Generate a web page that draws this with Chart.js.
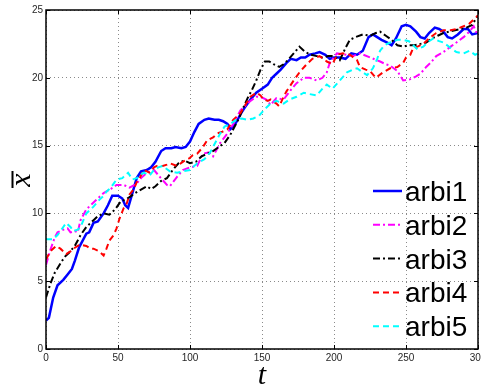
<!DOCTYPE html>
<html>
<head>
<meta charset="utf-8">
<script src="https://cdn.jsdelivr.net/npm/chart.js@4.4.1/dist/chart.umd.min.js"></script>
<style>
  html, body { margin: 0; padding: 0; background: #fff; }
  #wrap { width: 481px; height: 388px; }
</style>
</head>
<body>
<div id="wrap"><canvas id="c" width="481" height="388"></canvas></div>
<script>
// Axis ticks
const xTicks = [0, 50, 100, 150, 200, 250, 300];
const yTicks = [0, 5, 10, 15, 20, 25];

// Series names
const seriesNames = ['arbi1', 'arbi2', 'arbi3', 'arbi4', 'arbi5'];

// arbi1: time samples and mean values
const arbi1T = [0,2,5,8,12,15,18,20,23,25,28,30,33,36,40,43,46,50,53,55,57,60,63,66,70,73,76,80,83,87,90,94,97,100,103,106,110,113,117,120,123,126,128,131,135,138,142,146,150,154,157,160,163,167,170,174,177,180,183,187,190,194,197,200,204,208,212,216,220,224,227,230,233,237,240,243,247,250,253,257,260,263,266,270,273,276,279,282,286,290,293,296,300];
const arbi1X = [2.1,2.3,3.8,4.7,5.1,5.5,5.9,6.5,7.5,7.9,8.5,8.6,9.3,9.4,10.0,10.6,11.3,11.3,11.1,10.6,10.4,11.5,12.6,13.1,13.2,13.4,13.8,14.6,14.8,14.8,14.9,14.8,14.9,15.3,16.0,16.6,16.9,17.0,16.9,16.9,16.8,16.6,16.2,16.5,17.3,17.8,18.4,18.9,19.2,19.5,20.0,20.3,20.6,21.1,21.4,21.3,21.5,21.5,21.7,21.8,21.9,21.7,21.4,21.5,21.5,21.4,21.8,21.7,22.0,23.0,23.2,23.0,22.8,22.6,22.4,22.9,23.8,23.9,23.8,23.4,23.0,22.9,23.3,23.7,23.6,23.4,23.0,22.9,23.2,23.6,23.6,23.2,23.3];

// arbi2
const arbi2T = [0,3,6,8,12,15,17,20,22,24,28,31,35,40,45,49,54,58,63,66,70,75,79,84,86,91,95,100,105,109,113,116,121,126,130,135,139,142,146,149,153,156,160,165,170,174,179,183,188,192,195,197,202,209,213,218,225,232,236,239,244,248,253,257,260,264,267,271,276,281,285,290,294,297,300];
const arbi2X = [6.2,7.3,8.2,8.6,8.8,8.9,8.6,8.7,8.6,9.5,10.3,10.6,11.0,11.5,11.8,12.1,12.1,11.9,12.2,12.6,13.0,13.2,12.7,12.1,12.0,12.7,13.2,13.4,13.5,14.4,14.5,14.2,15.2,15.9,16.6,17.6,18.0,18.3,18.6,18.6,18.4,18.0,18.5,18.4,19.1,19.6,20.0,20.0,19.8,20.0,20.4,21.1,21.8,21.7,21.6,21.8,21.5,21.2,21.0,20.9,20.5,19.8,19.9,20.1,20.3,20.8,21.1,21.6,21.9,22.3,22.6,23.0,23.4,23.8,23.1];

// arbi3
const arbi3T = [0,3,6,10,13,16,20,24,28,33,36,40,44,48,52,55,58,62,65,70,73,76,80,84,88,92,96,100,104,108,112,116,120,124,128,131,134,137,140,143,146,149,152,155,158,162,165,168,172,176,180,184,188,192,196,200,204,208,211,215,220,225,229,232,236,240,244,248,252,256,260,264,268,272,276,280,284,288,292,296,300];
const arbi3X = [3.8,4.8,5.6,6.3,6.8,7.1,7.6,8.4,9.0,9.5,9.8,10.0,9.9,10.3,10.9,11.0,11.2,11.5,11.7,12.0,11.8,12.0,12.4,12.6,13.2,13.7,13.9,13.7,13.8,14.2,14.4,14.6,14.9,15.2,15.8,16.4,17.0,17.8,18.5,19.1,19.8,20.6,21.2,21.2,21.0,20.8,21.0,21.3,21.8,22.3,21.9,21.7,21.6,21.5,21.6,21.6,21.3,22.2,22.8,23.0,23.2,23.1,23.3,23.4,23.1,22.8,22.4,22.3,22.4,22.4,22.5,22.6,22.9,23.1,23.3,23.4,23.5,23.6,23.7,23.9,24.6];

// arbi4
const arbi4T = [0,3,7,10,12,14,17,19,22,24,28,31,33,37,40,42,44,47,49,51,54,56,58,61,63,65,68,72,75,77,81,84,86,91,95,100,102,105,109,112,116,119,122,126,130,135,139,142,146,149,151,154,156,160,162,165,167,172,176,181,185,190,195,199,202,206,211,216,218,222,225,229,234,239,244,248,250,253,255,258,262,267,271,276,281,285,290,294,298,300];
const arbi4X = [6.6,7.2,7.6,7.4,7.2,7.0,7.2,7.4,7.6,7.7,7.6,7.4,7.4,7.2,6.9,7.4,8.0,8.4,8.9,9.6,10.4,10.7,11.4,11.8,12.3,12.6,13.2,13.0,13.4,13.5,13.5,13.6,13.7,13.5,13.8,14.1,14.3,14.4,14.9,15.4,15.6,15.9,16.0,16.2,16.9,17.4,18.1,18.6,18.9,18.7,18.4,18.3,18.4,18.1,17.9,18.6,19.0,19.8,20.4,21.0,21.4,21.6,21.2,21.0,21.7,21.8,21.7,21.3,20.8,20.6,20.5,20.0,20.4,20.7,20.8,21.1,21.5,21.7,22.2,22.3,22.5,23.0,23.3,23.5,23.5,23.6,23.8,24.0,24.4,24.6];

// arbi5
const arbi5T = [0,5,8,10,12,14,17,19,22,24,26,28,31,33,37,40,42,45,47,49,53,57,60,63,65,68,72,75,78,81,86,91,95,100,105,110,114,118,121,124,128,132,136,140,144,148,152,156,160,165,169,174,179,183,188,192,195,199,204,209,213,216,220,223,227,230,232,235,239,244,248,252,255,258,262,266,269,273,276,281,285,290,294,298,300];
const arbi5X = [8.1,8.1,8.4,8.7,9.0,9.3,9.0,8.7,8.8,9.0,9.5,10.0,10.3,10.5,11.0,11.3,11.6,11.9,12.2,12.5,12.6,13.0,12.5,12.6,12.8,13.0,12.8,13.2,13.4,13.5,13.1,13.0,13.1,13.2,13.7,14.0,14.5,15.3,15.9,16.4,16.6,16.9,17.0,16.9,17.0,17.2,17.7,18.1,18.3,18.1,18.4,18.6,18.9,18.8,18.7,19.2,19.5,19.2,19.8,20.4,20.6,20.7,20.4,20.2,20.7,21.4,22.0,22.4,22.6,22.8,22.8,22.7,22.4,22.1,22.3,22.7,22.9,22.7,22.6,22.2,21.9,21.8,22.0,21.7,21.8];

const seriesT = [arbi1T, arbi2T, arbi3T, arbi4T, arbi5T];
const seriesX = [arbi1X, arbi2X, arbi3X, arbi4X, arbi5X];

// Line styles (MATLAB-like)
const styles = [
  { color: '#0000ff', width: 2.5, dash: [] },
  { color: '#ff00ff', width: 2, dash: [7, 3, 2, 3] },
  { color: '#000000', width: 2, dash: [7, 3, 2, 3] },
  { color: '#ff0000', width: 2, dash: [6, 4] },
  { color: '#00ffff', width: 2, dash: [6, 4] }
];

const datasets = seriesNames.map((name, i) => ({
  label: name,
  data: seriesT[i].map((t, k) => ({ x: t, y: seriesX[i][k] })),
  borderColor: styles[i].color,
  borderWidth: styles[i].width,
  borderDash: styles[i].dash,
  pointRadius: 0,
  tension: 0,
  fill: false,
  order: seriesNames.length - i
}));

// Box frame, inward ticks, axis titles and legend
const decorations = {
  id: 'decorations',
  afterDraw(chart) {
    const ctx = chart.ctx;
    const { left, right, top, bottom } = chart.chartArea;
    const xs = chart.scales.x, ys = chart.scales.y;
    ctx.save();

    // inward tick marks on all four sides
    ctx.strokeStyle = '#000';
    ctx.lineWidth = 1;
    ctx.setLineDash([]);
    ctx.beginPath();
    xTicks.forEach(v => {
      const px = Math.round(xs.getPixelForValue(v)) + 0.5;
      ctx.moveTo(px, bottom); ctx.lineTo(px, bottom - 4);
      ctx.moveTo(px, top); ctx.lineTo(px, top + 4);
    });
    yTicks.forEach(v => {
      const py = Math.round(ys.getPixelForValue(v)) + 0.5;
      ctx.moveTo(left, py); ctx.lineTo(left + 4, py);
      ctx.moveTo(right, py); ctx.lineTo(right - 4, py);
    });
    ctx.stroke();

    // axes box
    ctx.lineWidth = 1.5;
    ctx.strokeRect(left, top, right - left, bottom - top);

    // x axis title
    ctx.fillStyle = '#000';
    ctx.font = 'italic 30px "Liberation Serif", "DejaVu Serif", serif';
    ctx.textAlign = 'center';
    ctx.textBaseline = 'alphabetic';
    ctx.fillText('t', (left + right) / 2, 384);

    // y axis title: x with an overbar, rotated
    ctx.save();
    ctx.translate(30, 180);
    ctx.rotate(-Math.PI / 2);
    ctx.font = 'italic 30px "Liberation Serif", "DejaVu Serif", serif';
    ctx.textAlign = 'center';
    ctx.fillText('x', 0, 0);
    ctx.lineWidth = 2;
    ctx.beginPath();
    ctx.moveTo(-8, -17.5); ctx.lineTo(9, -17.5);
    ctx.stroke();
    ctx.restore();

    // legend
    const lx0 = 373, lx1 = 402, ly0 = 191, step = 33.8;
    ctx.font = '28px "Liberation Sans", Arial, sans-serif';
    ctx.textAlign = 'left';
    ctx.textBaseline = 'alphabetic';
    seriesNames.forEach((name, i) => {
      const y = ly0 + i * step;
      ctx.strokeStyle = styles[i].color;
      ctx.lineWidth = styles[i].width;
      ctx.setLineDash(styles[i].dash);
      ctx.beginPath();
      ctx.moveTo(lx0, y); ctx.lineTo(lx1, y);
      ctx.stroke();
      ctx.setLineDash([]);
      ctx.fillStyle = '#000';
      ctx.fillText(name, 405, y + 10);
    });
    ctx.restore();
  }
};

const tickFont = { family: '"Liberation Sans", Arial, sans-serif', size: 10 };

new Chart(document.getElementById('c'), {
  type: 'line',
  data: { datasets },
  options: {
    responsive: false,
    animation: false,
    devicePixelRatio: 1,
    layout: { autoPadding: false, padding: { left: 0, top: 10, right: 3, bottom: 0 } },
    plugins: { legend: { display: false }, tooltip: { enabled: false } },
    scales: {
      x: {
        type: 'linear',
        min: 0, max: 300,
        afterBuildTicks(scale) { scale.ticks = xTicks.map(v => ({ value: v })); },
        afterFit(scale) {
          scale.height = 39;
          scale.paddingLeft = 0;
          scale.paddingRight = 0;
        },
        ticks: { font: tickFont, color: '#262626', padding: 3, maxRotation: 0 },
        grid: { color: '#8a8a8a', lineWidth: 1, drawTicks: false },
        border: { display: false, dash: [1, 3] }
      },
      y: {
        type: 'linear',
        min: 0, max: 25,
        afterBuildTicks(scale) { scale.ticks = yTicks.map(v => ({ value: v })); },
        afterFit(scale) {
          scale.width = 46;
          scale.paddingTop = 0;
          scale.paddingBottom = 0;
        },
        ticks: { font: tickFont, color: '#262626', padding: 3 },
        grid: { color: '#8a8a8a', lineWidth: 1, drawTicks: false },
        border: { display: false, dash: [1, 3] }
      }
    }
  },
  plugins: [decorations]
});
</script>
</body>
</html>
